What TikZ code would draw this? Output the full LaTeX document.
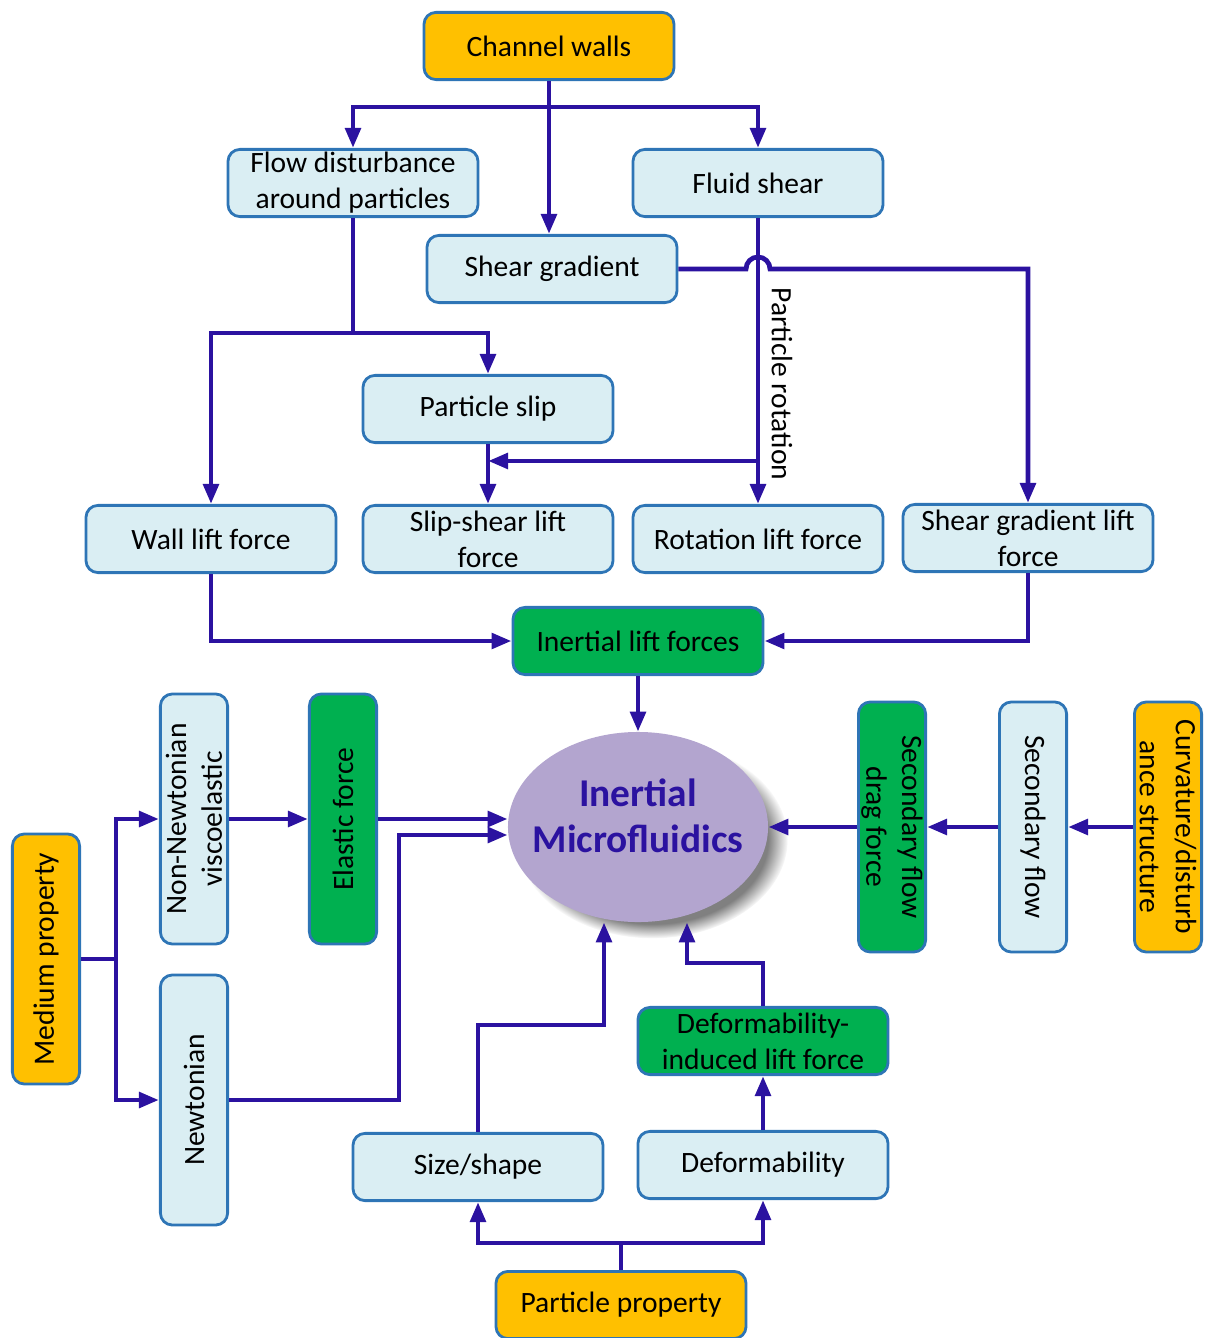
\documentclass[tikz,border=0pt]{standalone}
\usepackage{fontspec}
\setmainfont{Carlito}
\usetikzlibrary{arrows.meta,calc,shapes.geometric,shadows}
\definecolor{boxline}{HTML}{2E75B6}
\definecolor{boxfill}{HTML}{DAEEF3}
\definecolor{orangefill}{HTML}{FFC000}
\definecolor{greenfill}{HTML}{00B050}
\definecolor{linkblue}{HTML}{2B12A0}
\definecolor{ellfill}{HTML}{B3A5CF}
\tikzset{
	box/.style={draw=boxline, line width=2pt, rounded corners=0.3cm, fill=boxfill, minimum width=6.25cm, minimum height=1.68cm, align=center, inner sep=2pt, font=\fontsize{21}{25.5}\selectfont},
	orangebox/.style={box, fill=orangefill},
	greenbox/.style={box, fill=greenfill},
	upbox/.style={rotate=90},
	downbox/.style={rotate=-90},
	link/.style={draw=linkblue, line width=3.4pt},
	arr/.style={link, -{Triangle[length=0.5cm,width=0.38cm]}},
}

\begin{document}
\begin{tikzpicture}[x=0.025cm, y=-0.025cm]
			%%%%% START %%%%%
			\useasboundingbox (0,0) rectangle (1206,1338);
			
			\node[orangebox] (cw) at (549, 46) {Channel walls};
			\node[box] (fd) at (353, 183) {Flow disturbance\\around particles};
			\node[box] (fs) at (758, 183) {Fluid shear};
			\node[box] (sg) at (552, 269) {Shear gradient};
			\node[box] (ps) at (488, 409) {Particle slip};
			
			\node[box] (wl) at (211, 539) {Wall lift force};
			\node[box] (ssl) at (488, 539) {Slip-shear lift\\force};
			\node[box] (rl) at (758, 539) {Rotation lift force};
			\node[box] (sgl) at (1028, 538) {Shear gradient lift\\force};
			\node[greenbox] (ilf) at (638, 641) {Inertial lift forces};
			
			\node[ellipse, fill=ellfill, minimum width=6.5cm, minimum height=4.75cm, inner sep=0pt,
				circular drop shadow={shadow xshift=3.5mm, shadow yshift=-3mm, shadow scale=1.04}] (ell) at (638, 827) {};
			\node[align=center, text=linkblue, font=\fontsize{28}{33}\bfseries\selectfont] (elltxt) at ($(ell)+(0,-11)$) {Inertial\\Microfluidics};
			
			\node[box, upbox] (nnv) at (194, 819) {Non-Newtonian\\viscoelastic};
			\node[greenbox, upbox] (elf) at (343, 819) {Elastic force};
			\node[orangebox, upbox] (med) at (46, 959) {Medium property};
			\node[box, upbox] (newt) at (194, 1100) {Newtonian};
			
			\node[greenbox, downbox] (sfd) at (892, 827) {Secondary flow\\drag force};
			\node[box, downbox] (sf) at (1033, 827) {Secondary flow};
			\node[orangebox, downbox] (curv) at (1168, 827) {Curvature/disturb\\ance structure};
			
			\node[greenbox] (dil) at (763, 1041) {Deformability-\\induced lift force};
			\node[box] (ss) at (478, 1167) {Size/shape};
			\node[box] (def) at (763, 1165) {Deformability};
			\node[orangebox] (pp) at (621, 1305) {Particle property};
			
			% channel walls
			\draw[arr] (cw.south) -- (cw.south |- sg.north);
			\coordinate (cwj) at ($(cw.south)+(0,26)$);
			\draw[arr] (cwj) -| (fd.north);
			\draw[arr] (cwj) -| (fs.north);
			
			\coordinate (fdj) at ($(fd.south)+(0,115)$);
			\draw[link] (fd.south) -- (fdj);
			\draw[arr] (fdj) -| (wl.north);
			\draw[arr] (fdj) -| (ps.north);
			\draw[arr] (ps.south) -- (ssl.north);
			
			\draw[arr] (fs.south) -- (rl.north);
			\node[rotate=-90, font=\fontsize{21}{25.5}\selectfont] (prot) at (782, 384) {Particle rotation};
			\coordinate (rlj) at ($(rl.north)+(0,-43)$);
			\draw[arr] (rlj) -- (rlj -| ps.south);
			
			\coordinate (sgj) at (sg.east -| fs.south);
			\draw[arr] (sg.east) -- ($(sgj)+(-12,0)$) arc[start angle=180, end angle=0, radius=0.3cm] -| (sgl.north);
			
			\draw[arr] (wl.south) |- (ilf.west);
			\draw[arr] (sgl.south) |- (ilf.east);
			\draw[arr] (ilf.south) -- (ell.north);
			
			% medium
			\draw[arr] (nnv.south) -- (elf.north);
			\draw[arr] (elf.south) -- (elf.south -| ell.west);
			\draw[arr] (newt.south) -- ++(170,0) |- ($(ell.west)+(0,8)$);
			\coordinate (medj) at ($(med.south)+(35,0)$);
			\draw[link] (med.south) -- (medj);
			\draw[arr] (medj) |- (nnv.north);
			\draw[arr] (medj) |- (newt.north);
			
			% curvature
			\draw[arr] (curv.south) -- (sf.north);
			\draw[arr] (sf.south) -- (sfd.north);
			\draw[arr] (sfd.south) -- (sfd.south -| ell.east);
			
			% particle
			\coordinate (ppj) at ($(pp.north)+(0,-27)$);
			\draw[link] (pp.north) -- (ppj);
			\draw[arr] (ppj) -| (ss.south);
			\draw[arr] (ppj) -| (def.south);
			\draw[arr] (def.north) -- (dil.south);
			\draw[arr] (ss.north) -- ++(0,-107) -| ($(ell.south)+(-34,0)$);
			\draw[arr] (dil.north) -- ++(0,-43) -| ($(ell.south)+(49,0)$);
			
			%%%%% END %%%%%
\end{tikzpicture}
\end{document}
